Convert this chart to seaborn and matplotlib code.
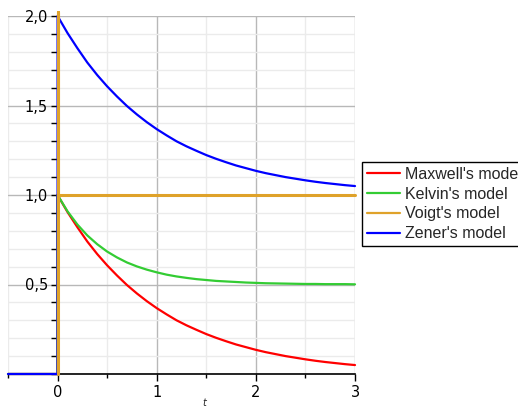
import numpy as np
import pandas as pd
import matplotlib
matplotlib.use("Agg")
import matplotlib.pyplot as plt
import seaborn as sns
from matplotlib.ticker import MultipleLocator, FuncFormatter
import matplotlib.transforms as mtransforms

# ---- data ----
t_curve = [0.0, 0.1, 0.2, 0.3, 0.4, 0.5, 0.6, 0.7, 0.8, 0.9, 1.0,
           1.1, 1.2, 1.3, 1.4, 1.5, 1.6, 1.7, 1.8, 1.9, 2.0,
           2.1, 2.2, 2.3, 2.4, 2.5, 2.6, 2.7, 2.8, 2.9, 3.0]
maxwell = [1.00, 0.905, 0.82, 0.74, 0.67, 0.607, 0.55, 0.497, 0.45, 0.407, 0.368,
           0.333, 0.30, 0.272, 0.247, 0.223, 0.202, 0.183, 0.165, 0.15, 0.135,
           0.122, 0.111, 0.10, 0.091, 0.082, 0.074, 0.067, 0.061, 0.055, 0.05]
kelvin = [1.00, 0.909, 0.835, 0.774, 0.725, 0.684, 0.651, 0.623, 0.601, 0.583, 0.568,
          0.555, 0.545, 0.537, 0.530, 0.525, 0.520, 0.517, 0.514, 0.511, 0.509,
          0.507, 0.506, 0.505, 0.504, 0.503, 0.503, 0.502, 0.502, 0.502, 0.501]
zener = [2.00, 1.905, 1.82, 1.74, 1.67, 1.607, 1.55, 1.497, 1.45, 1.407, 1.368,
         1.333, 1.30, 1.272, 1.247, 1.223, 1.202, 1.183, 1.165, 1.15, 1.135,
         1.122, 1.111, 1.10, 1.091, 1.082, 1.074, 1.067, 1.061, 1.055, 1.05]
t_before = [-0.5, 0.0]          # all responses are zero before t = 0
zero_before = [0.0, 0.0]
voigt_t = [0.0, 0.0, 0.0, 3.0]
voigt_v = [0.0, 2.02, 1.0, 1.0]

series_names = ["Maxwell's model", "Kelvin's model", "Voigt's model", "Zener's model"]
colors = {"Maxwell's model": "#ff0000", "Kelvin's model": "#33cc33",
          "Voigt's model": "#dfa22a", "Zener's model": "#0000ff"}

rows = []
for name, vals in [(series_names[0], maxwell), (series_names[1], kelvin), (series_names[3], zener)]:
    for tt, vv in zip(t_before, zero_before):
        rows.append((name, tt, vv))
    for tt, vv in zip(t_curve, vals):
        rows.append((name, tt, vv))
for tt, vv in zip(voigt_t, voigt_v):
    rows.append((series_names[2], tt, vv))
df = pd.DataFrame(rows, columns=["model", "t", "value"])

sns.set_style("white")
plt.rcParams['font.family'] = ['DejaVu Sans']

fig = plt.figure(figsize=(5.18, 4.08), dpi=100)
ax = fig.add_axes([8/518, 1 - 374/408, (355 - 8)/518, (374 - 16)/408])

for name, z in [(series_names[0], 3), (series_names[1], 3), (series_names[3], 4), (series_names[2], 5)]:
    sub = df[df["model"] == name]
    lw = 2.2 if name == "Voigt's model" else 1.6
    line_ax = sns.lineplot(data=sub, x="t", y="value", color=colors[name], sort=False,
                           estimator=None, linewidth=lw, ax=ax, label=name, zorder=z)
    line_ax.lines[-1].set_clip_on(False)

ax.set_xlim(-0.5, 3.0)
ax.set_ylim(0.0, 2.0)

ax.spines['left'].set_position(('data', 0))
ax.spines['bottom'].set_position(('data', 0))
ax.spines['right'].set_visible(False)
ax.spines['top'].set_visible(False)
for s in ['left', 'bottom']:
    ax.spines[s].set_color('black')
    ax.spines[s].set_linewidth(1.2)
    ax.spines[s].set_zorder(2)

ax.xaxis.set_major_locator(MultipleLocator(1))
ax.xaxis.set_minor_locator(MultipleLocator(0.5))
ax.yaxis.set_major_locator(MultipleLocator(0.5))
ax.yaxis.set_minor_locator(MultipleLocator(0.1))
ax.yaxis.set_major_formatter(FuncFormatter(lambda v, p: ("%.1f" % v).replace('.', ',') if v > 0 else ""))
ax.xaxis.set_major_formatter(FuncFormatter(lambda v, p: "%d" % v if v >= 0 else ""))

ax.tick_params(axis='both', which='both', direction='out', colors='black', labelsize=10.5,
               bottom=True, left=True)
ax.tick_params(axis='y', which='both', length=5, width=1, pad=2)
ax.tick_params(axis='x', which='major', length=5, width=1, pad=3)
ax.tick_params(axis='x', which='minor', length=3, width=1)

ax.grid(True, which='major', color='#b8b8b8', linewidth=1.0, zorder=0)
ax.grid(True, which='minor', color='#ebebeb', linewidth=1.0, zorder=0)
ax.set_axisbelow(True)

ax.set_xlabel("")
ax.set_ylabel("")
trans = mtransforms.blended_transform_factory(ax.transData, fig.transFigure)
ax.text(1.48, 1 - 403/408, "t", transform=trans, fontsize=7, style='italic',
        ha='center', va='center')

handles, labels = ax.get_legend_handles_labels()
order = [labels.index(n) for n in series_names]
leg = ax.legend([handles[i] for i in order], [labels[i] for i in order],
                loc='upper left', bbox_to_anchor=(362/518, 1 - 162/408),
                bbox_transform=fig.transFigure, frameon=True, fancybox=False,
                edgecolor='black', framealpha=1, borderaxespad=0,
                prop={'family': 'Liberation Sans', 'size': 11.5},
                handlelength=2.1, handletextpad=0.3, labelspacing=0.3,
                borderpad=0.3, handleheight=0.7)
leg.get_frame().set_linewidth(1.0)
for h in leg.get_lines():
    h.set_linewidth(1.6)

fig.savefig("out.png", dpi=100)
